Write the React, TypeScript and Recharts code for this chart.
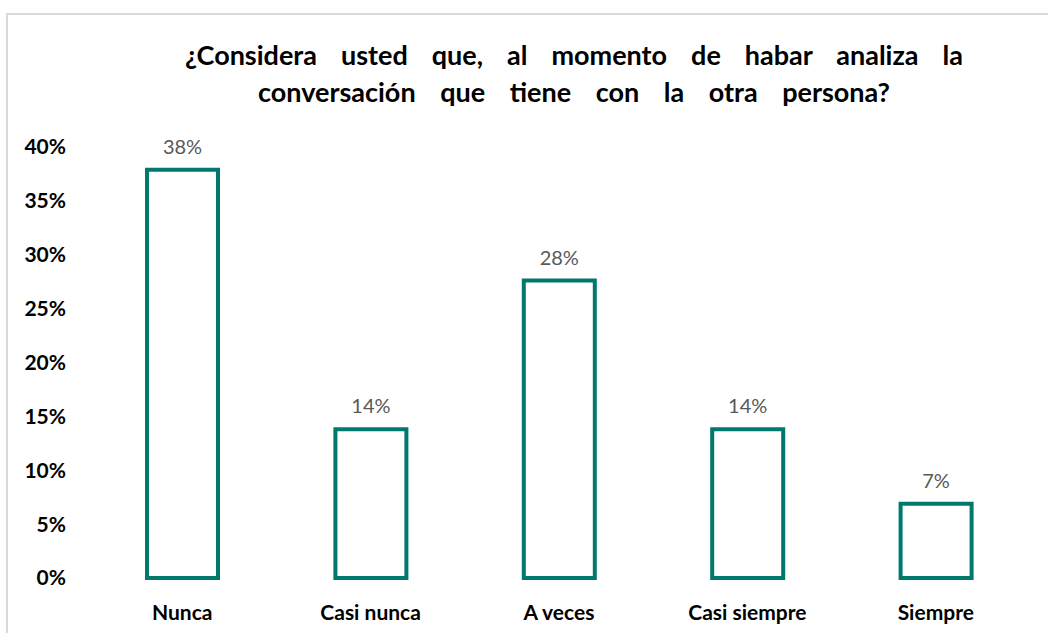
import { BarChart, Bar, XAxis, YAxis, LabelList } from 'recharts';

const categories = ['Nunca', 'Casi nunca', 'A veces', 'Casi siempre', 'Siempre'];
const values = [0.379, 0.138, 0.276, 0.138, 0.069];
const yTicks = [0, 0.05, 0.1, 0.15, 0.2, 0.25, 0.3, 0.35, 0.4];
const titleLines = [
  '¿Considera usted que, al momento de habar analiza la',
  'conversación que tiene con la otra persona?',
];

const teal = '#00786C';
const font = 'Lato, "Open Sans", sans-serif';

const pct = (v: number) => `${Math.round(v * 100)}%`;

export default function App() {
  const data = categories.map((name, i) => ({ name, value: values[i] }));

  return (
    <div
      style={{
        position: 'fixed',
        left: 0,
        top: 0,
        width: 1048,
        height: 633,
        overflow: 'hidden',
        background: '#fff',
        fontFamily: font,
      }}
    >
      <div
        style={{
          position: 'absolute',
          left: 6,
          top: 13,
          width: 1100,
          height: 700,
          border: '2px solid #d9d9d9',
        }}
      />
      <div
        style={{
          position: 'absolute',
          left: 185,
          top: 36,
          width: 778,
          fontSize: 27,
          fontWeight: 700,
          color: '#000',
          lineHeight: '37px',
        }}
      >
        <div style={{ textAlign: 'justify', textAlignLast: 'justify' }}>{titleLines[0]}</div>
        <div style={{ textAlign: 'center', wordSpacing: 18 }}>{titleLines[1]}</div>
      </div>
      <div style={{ position: 'absolute', left: 0, top: 0 }}>
        <BarChart
          width={1048}
          height={633}
          data={data}
          margin={{ top: 147, right: 18, bottom: 15, left: 0 }}
        >
          <XAxis
            dataKey="name"
            axisLine={false}
            tickLine={false}
            tickSize={0}
            tickMargin={27}
            height={40}
            interval={0}
            tick={{ fill: '#000', fontSize: 21, fontWeight: 700, fontFamily: font }}
          />
          <YAxis
            domain={[0, 0.4]}
            ticks={yTicks}
            tickFormatter={pct}
            axisLine={false}
            tickLine={false}
            tickSize={0}
            tickMargin={22}
            width={88}
            interval={0}
            tick={{ fill: '#000', fontSize: 21, fontWeight: 700, fontFamily: font }}
          />
          <Bar
            dataKey="value"
            fill="#fff"
            stroke={teal}
            strokeWidth={4}
            barSize={71}
            isAnimationActive={false}
          >
            <LabelList
              dataKey="value"
              position="top"
              offset={16}
              formatter={(v: any) => pct(Number(v))}
              style={{ fill: '#595959', fontSize: 20, fontFamily: font }}
            />
          </Bar>
        </BarChart>
      </div>
    </div>
  );
}
